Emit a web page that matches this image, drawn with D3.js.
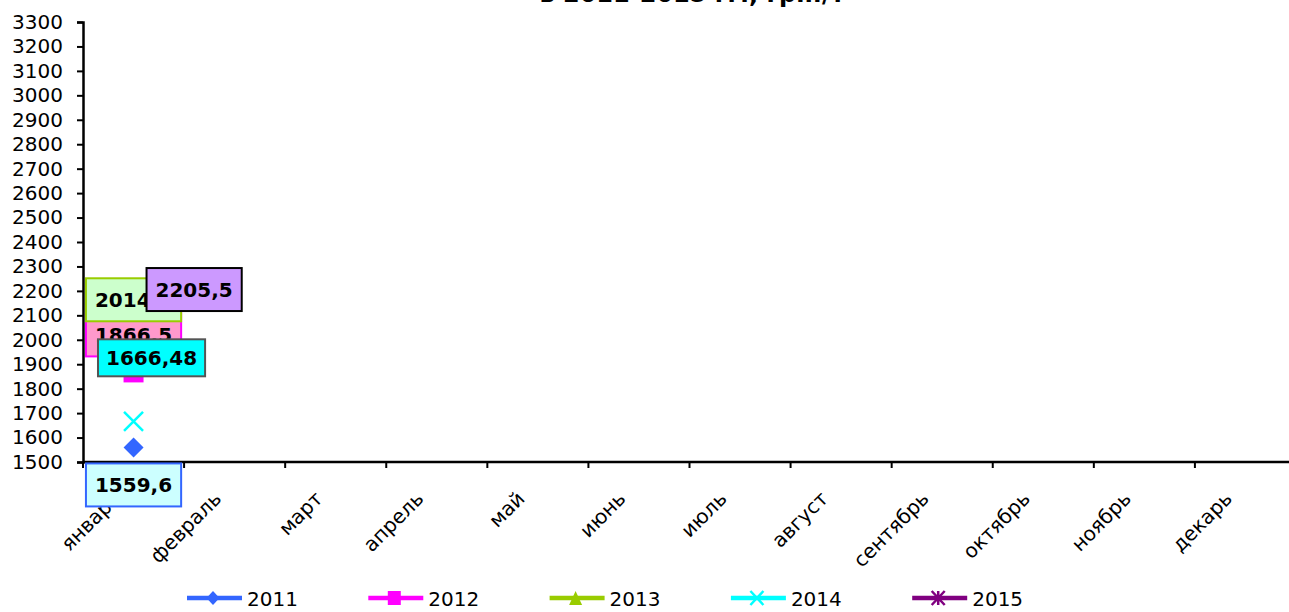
<!DOCTYPE html>
<html>
<head>
<meta charset="utf-8">
<script src="https://cdn.jsdelivr.net/npm/d3@7"></script>
<style>
  html, body { margin: 0; padding: 0; background: #fff; }
  svg { display: block; }
</style>
</head>
<body>
<svg id="chart" width="1289" height="612"></svg>
<script>
// Months of the year (category axis)
const months = ["январь", "февраль", "март", "апрель", "май", "июнь",
                "июль", "август", "сентябрь", "октябрь", "ноябрь", "декарь"];

// Series (one year each); only January values are known
const years = ["2011", "2012", "2013", "2014", "2015"];
const values2011 = [1559.6];
const values2012 = [1866.5];
const values2013 = [2014.3];
const values2014 = [1666.48];
const values2015 = [2205.5];

// Y-axis tick values
const yTicks = d3.range(1500, 3301, 100);

const seriesValues = [values2011, values2012, values2013, values2014, values2015];
const colors = ["#3366FF", "#FF00FF", "#99CC00", "#00FFFF", "#800080"];
const markers = ["diamond", "square", "triangle", "x", "star"];

// Data label styling per series
const labelStyle = [
  { fill: "#CCFFFF", stroke: "#3366FF", pos: "below", dx: 0, gap: 16, padX: 9, h: 43 },
  { fill: "#FF99CC", stroke: "#FF00FF", pos: "above", dx: 0, gap: 16, padX: 9, h: 43 },
  { fill: "#CCFFCC", stroke: "#99CC00", pos: "above", dx: 0, gap: 15, padX: 9, h: 43 },
  { fill: "#00FFFF", stroke: "#555555", pos: "above", dx: 18, gap: 45, padX: 8, h: 37 },
  { fill: "#CC99FF", stroke: "#000000", pos: "right", dx: 0, gap: 13, padX: 9, h: 43 }
];

const svg = d3.select("#chart");
const plotLeft = 83, plotTop = 22, plotBottom = 462, plotRight = 1296;
const font = "DejaVu Sans, Verdana, sans-serif";

const x = d3.scaleBand().domain(months).range([plotLeft, plotRight]);
const y = d3.scaleLinear().domain([1500, 3300]).range([plotBottom, plotTop]);

const fmt = v => String(v).replace(".", ",");

// Title (its second line sits at the top edge)
svg.append("text")
  .attr("x", 692).attr("y", 2)
  .attr("text-anchor", "middle")
  .style("font-family", font)
  .style("font-weight", "bold")
  .style("font-size", "24px")
  .text("в 2011-2015 гг., грн./т");

// Y axis
const yAxis = svg.append("g")
  .attr("transform", `translate(${plotLeft},0)`)
  .call(d3.axisLeft(y).tickValues(yTicks).tickSize(6).tickPadding(14).tickFormat(d3.format("d")));
yAxis.select(".domain").attr("stroke", "#000").attr("stroke-width", 2.5);
yAxis.selectAll(".tick line").attr("stroke", "#000").attr("stroke-width", 2);
yAxis.selectAll(".tick text")
  .style("font-family", font)
  .style("font-size", "20px")
  .attr("fill", "#000");

// X axis: ticks between categories
const xAxis = svg.append("g").attr("transform", `translate(0,${plotBottom})`);
xAxis.append("line")
  .attr("x1", plotLeft).attr("x2", plotRight)
  .attr("stroke", "#000").attr("stroke-width", 2.5);
xAxis.selectAll("line.tick")
  .data(months.concat(["end"]))
  .join("line")
  .attr("class", "tick")
  .attr("x1", (d, i) => plotLeft + i * x.bandwidth())
  .attr("x2", (d, i) => plotLeft + i * x.bandwidth())
  .attr("y1", 0).attr("y2", 6)
  .attr("stroke", "#000").attr("stroke-width", 2);
xAxis.selectAll("text")
  .data(months)
  .join("text")
  .attr("transform", d => `translate(${x(d) + x.bandwidth() / 2 - 12},${38}) rotate(-45)`)
  .attr("text-anchor", "end")
  .style("font-family", font)
  .style("font-size", "20px")
  .attr("fill", "#000")
  .text(d => d);

// Marker shapes
function markerPath(type, w, h) {
  const a = w / 2, b = h / 2;
  switch (type) {
    case "diamond": return `M0,${-b}L${a},0L0,${b}L${-a},0Z`;
    case "square": return `M${-a},${-b}H${a}V${b}H${-a}Z`;
    case "triangle": return `M0,${-b}L${a},${b}H${-a}Z`;
    case "x": return `M${-a},${-b}L${a},${b}M${a},${-b}L${-a},${b}`;
    case "star": return `M${-a},${-b}L${a},${b}M${a},${-b}L${-a},${b}M0,${-b}V${b}`;
  }
}
function drawMarker(g, type, color, w, h) {
  const filled = type === "diamond" || type === "square" || type === "triangle";
  g.append("path")
    .attr("d", markerPath(type, w, h))
    .attr("fill", filled ? color : "none")
    .attr("stroke", color)
    .attr("stroke-width", filled ? 0 : 2.5);
}

// Points
const pts = [];
seriesValues.forEach((vals, si) => {
  vals.forEach((v, mi) => {
    const px = x(months[mi]) + x.bandwidth() / 2;
    const py = y(v);
    pts.push({ si, v, px, py });
    const g = svg.append("g").attr("transform", `translate(${px},${py})`);
    const s = markers[si] === "x" ? 19 : 20;
    drawMarker(g, markers[si], colors[si], s, s);
  });
});

// Data labels
pts.forEach(p => {
  const st = labelStyle[p.si];
  const g = svg.append("g");
  const rect = g.append("rect");
  const t = g.append("text")
    .style("font-family", font)
    .style("font-weight", "bold")
    .style("font-size", "20px")
    .attr("text-anchor", "middle")
    .attr("fill", "#000")
    .text(fmt(p.v));
  const w = t.node().getComputedTextLength() + st.padX * 2;
  const h = st.h;
  let cx, cy;
  if (st.pos === "below") { cx = p.px + st.dx; cy = p.py + st.gap + h / 2; }
  else if (st.pos === "above") { cx = p.px + st.dx; cy = p.py - st.gap - h / 2; }
  else { cx = p.px + st.gap + w / 2; cy = p.py; }
  rect.attr("x", cx - w / 2).attr("y", cy - h / 2)
    .attr("width", w).attr("height", h)
    .attr("fill", st.fill).attr("stroke", st.stroke).attr("stroke-width", 2);
  t.attr("x", cx).attr("y", cy + 7);
});

// Legend
const legend = svg.append("g");
years.forEach((yr, i) => {
  const lx = 187 + i * 181.3;
  const ly = 598;
  const g = legend.append("g");
  g.append("line")
    .attr("x1", lx).attr("x2", lx + 55)
    .attr("y1", ly).attr("y2", ly)
    .attr("stroke", colors[i]).attr("stroke-width", 4.5);
  const mg = g.append("g").attr("transform", `translate(${lx + 26},${ly})`);
  drawMarker(mg, markers[i], colors[i], 13, 14);
  g.append("text")
    .attr("x", lx + 60).attr("y", ly + 8)
    .style("font-family", font)
    .style("font-size", "20px")
    .attr("fill", "#000")
    .text(yr);
});
</script>
</body>
</html>
